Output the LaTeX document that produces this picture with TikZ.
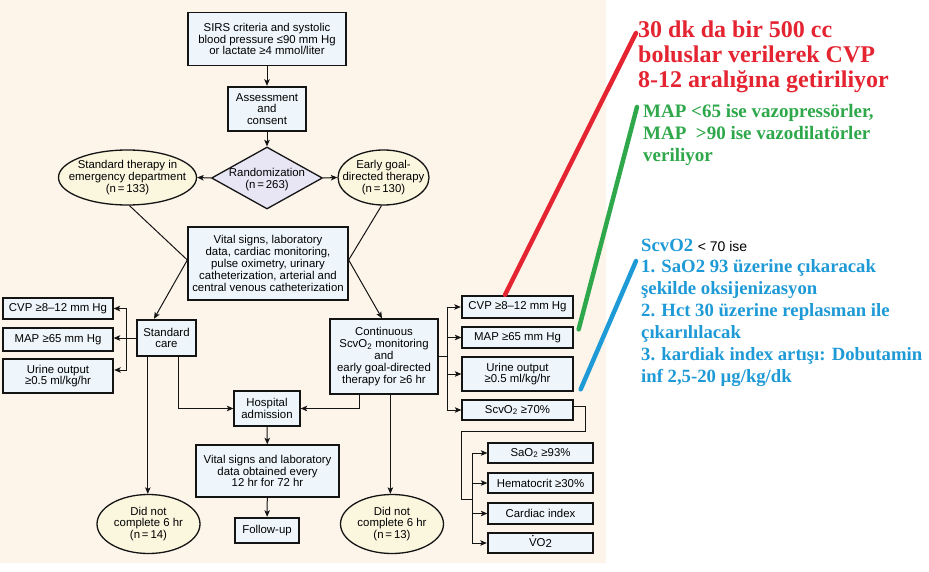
\documentclass[tikz,border=0pt]{standalone}
\usepackage{fontspec}
\setmainfont{Liberation Sans}
\newfontfamily\trserif{Liberation Serif}
\usetikzlibrary{arrows.meta,shapes.geometric,calc}
\definecolor{bgbeige}{HTML}{FDF4EA}
\definecolor{boxfill}{HTML}{EEF6FB}
\definecolor{ellfill}{HTML}{FBF6DE}
\definecolor{diafill}{HTML}{E8E5F4}
\definecolor{ink}{HTML}{141414}
\definecolor{notered}{HTML}{E42431}
\definecolor{notegreen}{HTML}{2EA84A}
\definecolor{noteblue}{HTML}{1E9AD6}
\newcommand\dgfont{\fontsize{11.4}{11.8}\selectfont}
\tikzset{
 box/.style={draw=ink, fill=boxfill, line width=1.3pt, align=center, inner sep=1pt, font=\dgfont},
 tbox/.style={box, line width=2.4pt},
 ell/.style={ellipse, draw=ink, fill=ellfill, line width=1.3pt, inner sep=0pt},
 lab/.style={font=\dgfont, align=center, inner sep=0pt},
 arr/.style={draw=ink, line width=1pt, -{Stealth[length=6.5pt,width=5.5pt,inset=1.5pt]}},
 ln/.style={draw=ink, line width=1pt},
 callout/.style={line width=4.5pt, line cap=round},
 note/.style={anchor=north west, align=left, inner sep=0pt},
}
\begin{document}
\begin{tikzpicture}[x=1pt,y=-1pt]
\useasboundingbox (0,0) rectangle (929,572);
\fill[white] (0,0) rectangle (929,572);
\fill[bgbeige] (0,0) rectangle (606,563);

% main column
\node[box, minimum width=158, minimum height=53] (sirs) at (267,39) {SIRS criteria and systolic\\blood pressure ≤90 mm Hg\\or lactate ≥4 mmol/liter};
\node[tbox, minimum width=78, minimum height=44] (assess) at (267,109) {Assessment\\and\\consent};
\node[diamond, draw=ink, fill=diafill, line width=1.3pt, inner sep=0pt, minimum width=111, minimum height=62,
      label={[lab, yshift=-1.5pt]center:Randomization\\(n\,=\,263)}] (rand) at (267,178) {};
\node[ell, minimum width=138, minimum height=55,
      label={[lab]center:Standard therapy in\\emergency department\\(n\,=\,133)}] (leftell) at (127.5,177.5) {};
\node[ell, minimum width=91, minimum height=55,
      label={[lab]center:Early goal-\\directed therapy\\(n\,=\,130)}] (rightell) at (383.5,177.5) {};
\node[box, minimum width=160, minimum height=73] (vital) at (268,263.5) {Vital signs, laboratory\\data, cardiac monitoring,\\pulse oximetry, urinary\\catheterization, arterial and\\central venous catheterization};

% left branch
\node[tbox, minimum width=59, minimum height=36] (stdcare) at (166.5,338) {Standard\\care};
\node[box, minimum width=110, minimum height=21] (lcvp) at (58,308.5) {CVP ≥8–12 mm Hg};
\node[box, minimum width=110, minimum height=23] (lmap) at (58,339.5) {MAP ≥65 mm Hg};
\node[tbox, minimum width=110, minimum height=34] (lurine) at (58,376) {Urine output\\≥0.5 ml/kg/hr};

% right branch
\node[box, minimum width=108, minimum height=75] (cont) at (384,356.5) {Continuous\\ScvO\textsubscript{2} monitoring\\and\\early goal-directed\\therapy for ≥6 hr};
\node[tbox, minimum width=111, minimum height=22] (rcvp) at (517.5,307) {CVP ≥8–12 mm Hg};
\node[box, minimum width=111, minimum height=21] (rmap) at (517.5,337.5) {MAP ≥65 mm Hg};
\node[box, minimum width=111, minimum height=34] (rurine) at (517.5,374) {Urine output\\≥0.5 ml/kg/hr};
\node[box, minimum width=111, minimum height=20] (rscv) at (517.5,410) {ScvO\textsubscript{2} ≥70\%};
\node[box, minimum width=105, minimum height=20] (sao2) at (540.5,453) {SaO\textsubscript{2} ≥93\%};
\node[box, minimum width=105, minimum height=20] (hct) at (540.5,483) {Hematocrit ≥30\%};
\node[box, minimum width=105, minimum height=21] (ci) at (540.5,513.5) {Cardiac index};
\node[tbox, minimum width=105, minimum height=20] (vo2) at (540.5,543) {VO\raisebox{-0.25ex}{2}};
\fill[ink] ($(vo2.center)+(-7.6,-7.4)$) circle (0.9);

% bottom
\node[box, minimum width=66, minimum height=35] (hosp) at (267,408.5) {Hospital\\admission};
\node[box, minimum width=143, minimum height=52] (vital2) at (267.5,471) {Vital signs and laboratory\\data obtained every\\12 hr for 72 hr};
\node[tbox, minimum width=64, minimum height=25] (follow) at (267,530.5) {Follow-up};
\node[ell, minimum width=103, minimum height=59,
      label={[lab]center:Did not\\complete 6 hr\\(n\,=\,14)}] (dnl) at (148.5,524) {};
\node[ell, minimum width=103, minimum height=59,
      label={[lab]center:Did not\\complete 6 hr\\(n\,=\,13)}] (dnr) at (392,524) {};

% connectors: top
\draw[arr] (sirs) -- (assess);
\draw[arr] (assess.south) -- (rand.north);
\draw[arr] (rand.west) -- (leftell.east);
\draw[arr] (rand.east) -- (rightell.west);
\coordinate (vl) at ($(vital.west)+(0,-3.5)$);
\coordinate (vr) at ($(vital.east)+(0,-3.5)$);
\draw[ln] ($(leftell.south)+(2,0)$) -- (vl);
\draw[arr] (vl) -- ($(stdcare.north)+(-12.5,0)$);
\draw[ln] ($(rightell.south)+(-2,0)$) -- (vr);
\draw[arr] (vr) -- ($(cont.north)+(-2,0)$);

% left bus
\coordinate (lb) at ($(stdcare.west)+(-9,0)$);
\draw[arr] (stdcare.west) -- (stdcare.west -| lmap.east);
\draw[arr] (lb) |- (lcvp.east);
\draw[arr] (lb) |- ($(lurine.east)+(0,-6)$);

% right bus
\coordinate (rb) at ($(cont.east)+(9,0)$);
\draw[ln] (cont.east) -- (rb);
\draw[arr] (rb) |- (rcvp.west);
\draw[arr] (rb) |- (rmap.west);
\draw[arr] (rb) |- (rurine.west);
\draw[arr] (rb) |- (rscv.west);

% ScvO2 sub-branch
\coordinate (se) at ($(rscv.east)+(0,-4)$);
\coordinate (sk1) at ($(rscv.east)+(12,21)$);
\coordinate (sk2) at ($(sao2.west)+(-26,46)$);
\coordinate (sbus) at ($(sao2.west)+(-15,0)$);
\draw[ln] (se) -| (sk1) -| (sk2) -- (sk2 -| sbus);
\draw[ln] (sbus) -- (sbus |- vo2.west);
\draw[arr] (sbus) -- (sao2.west);
\draw[arr] (sbus |- hct.west) -- (hct.west);
\draw[arr] (sbus |- ci.west) -- (ci.west);
\draw[arr] (sbus |- vo2.west) -- (vo2.west);

% bottom connectors
\coordinate (sc1) at ($(stdcare.south west)+(12,0)$);
\coordinate (sc2) at ($(stdcare.south west)+(43,0)$);
\coordinate (cb1) at ($(cont.south west)+(30,0)$);
\coordinate (cb2) at ($(cont.south west)+(61,0)$);
\draw[arr] (sc1) -- (sc1 |- dnl.north);
\draw[arr] (sc2) |- (hosp.west);
\draw[arr] (cb1) |- (hosp.east);
\draw[arr] (cb2) -- (cb2 |- dnr.north);
\draw[arr] (hosp) -- (vital2);
\draw[arr] (vital2) -- (follow);

% notes
\node[note, text=notered, font=\trserif\bfseries\fontsize{24}{25}\selectfont] (redtxt) at (638,20.5)
  {30 dk da bir 500 cc\\boluslar verilerek CVP\\8-12 aralığına getiriliyor};
\node[note, text=notegreen, font=\trserif\bfseries\fontsize{19}{21.7}\selectfont] (greentxt) at (643,104.5)
  {MAP <65 ise vazopressörler,\\MAP\ \ >90 ise vazodilatörler\\veriliyor};
\node[note, text=noteblue, font=\trserif\bfseries\fontsize{18.7}{21.9}\selectfont] (bluetxt) at (641,238.5)
  {ScvO2\ {\normalfont\fontsize{14}{21.9}\selectfont\color{black}< 70 ise}\\1. SaO2 93 üzerine çıkaracak\\şekilde oksijenizasyon\\2. Hct 30 üzerine replasman ile\\çıkarılılacak\\3. kardiak index artışı: Dobutamin\\inf 2,5-20 µg/kg/dk};

% callout lines
\coordinate (redtop) at (636,33);
\coordinate (greentop) at (637,107);
\coordinate (bluetop) at (636,261);
\coordinate (greenbot) at ($(rmap.north east)+(5,3)$);
\coordinate (bluebot) at ($(rscv.north east)+(7,-10)$);
\draw[callout, notered] ($(rcvp.north)+(-12.5,0)$) -- (redtop);
\draw[callout, notegreen] (greenbot) -- (greentop);
\draw[callout, noteblue] (bluebot) -- (bluetop);
\end{tikzpicture}
\end{document}
